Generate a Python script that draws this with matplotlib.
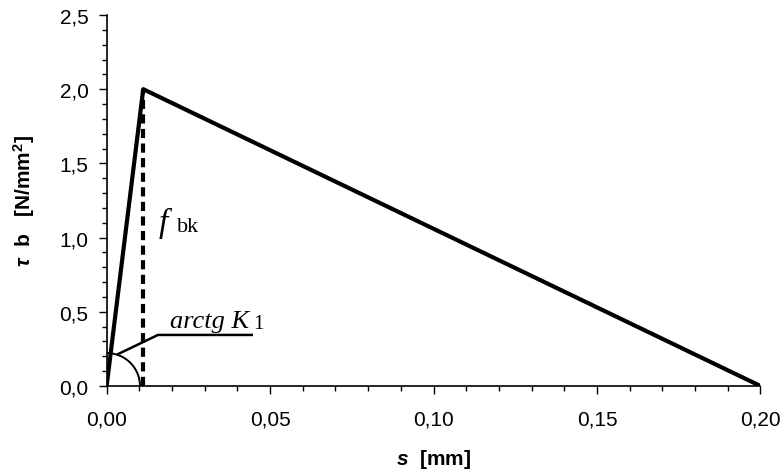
import numpy as np
import matplotlib.pyplot as plt
from matplotlib.ticker import MultipleLocator, FuncFormatter

plt.rcParams['font.family'] = ['Liberation Sans', 'DejaVu Sans']
plt.rcParams['mathtext.fontset'] = 'custom'
plt.rcParams['mathtext.rm'] = 'Liberation Sans:bold'
plt.rcParams['mathtext.it'] = 'Liberation Sans:bold:italic'
plt.rcParams['mathtext.bf'] = 'Liberation Sans:bold'

# bond-slip law: s [mm] vs tau_b [N/mm2]
s = [0.0, 0.0112, 0.20]
tau = [0.0, 2.0, 0.0]
s_peak = 0.0112
f_bk = 2.0

# arc + leader line for arctg K1 label
arc_r_x = 0.0102
arc_r_y = 0.222
leader_s = [0.0036, 0.0157, 0.0444]
leader_tau = [0.216, 0.344, 0.344]

fig = plt.figure(figsize=(7.84, 4.77), dpi=100)
ax = fig.add_axes([0.136, 0.1887, 0.834, 0.7778])

ax.plot(s, tau, color='black', lw=3.0, solid_joinstyle='round', zorder=3)
ax.plot([s_peak, s_peak], [0, f_bk], color='black', lw=3.0, ls=(0, (2.2, 1.3)), zorder=2)

t = np.linspace(0, np.pi / 2, 60)
ax.plot(arc_r_x * np.cos(t), arc_r_y * np.sin(t), color='black', lw=1.4)
ax.plot(leader_s, leader_tau, color='black', lw=1.8)

# annotations in Times-like italic
ax.text(0.0195, 0.40, 'arctg K', fontsize=19, family='Liberation Serif', style='italic',
        ha='left', va='baseline')
ax.text(0.0447, 0.39, '1', fontsize=15, family='Liberation Serif', ha='left', va='baseline')
ax.text(0.0160, 1.045, 'f', fontsize=24, family='Liberation Serif', style='italic',
        ha='left', va='baseline')
ax.text(0.0216, 1.045, 'bk', fontsize=16, family='Liberation Serif', ha='left', va='baseline')

ax.set_xlim(0, 0.20)
ax.set_ylim(0, 2.5)
ax.xaxis.set_major_locator(MultipleLocator(0.05))
ax.xaxis.set_minor_locator(MultipleLocator(0.01))
ax.yaxis.set_major_locator(MultipleLocator(0.5))
ax.yaxis.set_minor_locator(MultipleLocator(0.1))
ax.xaxis.set_major_formatter(FuncFormatter(lambda v, p: f'{v:.2f}'.replace('.', ',')))
ax.yaxis.set_major_formatter(FuncFormatter(lambda v, p: f'{v:.1f}'.replace('.', ',')))

for sp in ['top', 'right']:
    ax.spines[sp].set_visible(False)
ax.spines['left'].set_linewidth(1.2)
ax.spines['bottom'].set_linewidth(1.2)
ax.tick_params(which='major', direction='out', length=6, width=1.0, labelsize=15)
ax.tick_params(which='minor', direction='out', length=3.5, width=1.0)
ax.tick_params(axis='x', which='major', pad=11)
ax.tick_params(axis='y', which='major', pad=7)

ax.set_xlabel(r'$\mathit{s}$  [mm]', fontsize=15, fontweight='bold', labelpad=13)
ax.set_ylabel(r'$\mathit{\tau}$  b   [N/mm$^{2}$]', fontsize=15, fontweight='bold', labelpad=16)

fig.savefig('out.png', dpi=100)
